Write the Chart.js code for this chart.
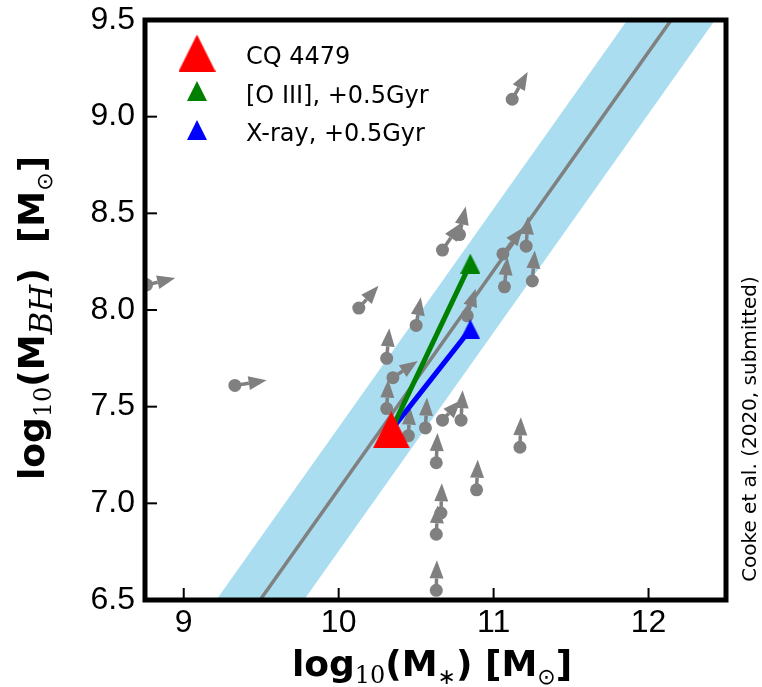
<!DOCTYPE html>
<html>
<head>
<meta charset="utf-8">
<script src="https://cdn.jsdelivr.net/npm/chart.js@4.4.0/dist/chart.umd.min.js"></script>
<style>
  html, body { margin: 0; padding: 0; background: #fff; }
</style>
</head>
<body>
<canvas id="chart" width="762" height="687"></canvas>
<script>
// axis ranges and tick labels
const xMin = 8.75, xMax = 12.5;
const yMin = 6.5, yMax = 9.5;
const xTicks = [9, 10, 11, 12];
const yTicks = [6.5, 7.0, 7.5, 8.0, 8.5, 9.0, 9.5];

// comparison sample (lower limits): log M*, log MBH, arrow offsets in dex
const galMstar = [8.76, 9.33, 10.13, 11.12, 10.67, 10.78, 10.50, 10.31, 10.35, 10.31, 10.45, 10.56, 10.67,
                  10.79, 11.17, 10.63, 10.89, 10.66, 10.63, 10.63, 11.06, 11.21, 11.07, 11.25, 10.83];
const galMbh   = [8.13, 7.61, 8.01, 9.09, 8.31, 8.39, 7.92, 7.75, 7.65, 7.49, 7.35, 7.39, 7.43,
                  7.43, 7.29, 7.21, 7.07, 6.95, 6.84, 6.55, 8.29, 8.33, 8.12, 8.15, 7.97];
const galDx    = [0.185, 0.205, 0.127, 0.10, 0.12, 0.04, 0.03, 0.017, 0.16, 0.01, 0.01, 0.01, 0.119,
                  0.01, 0.006, 0.008, 0.008, 0.006, 0.01, 0.004, 0.129, 0.013, 0.019, 0.016, 0.054];
const galDy    = [0.035, 0.026, 0.115, 0.141, 0.14, 0.145, 0.146, 0.155, 0.086, 0.15, 0.15, 0.157, 0.103,
                  0.155, 0.155, 0.154, 0.155, 0.154, 0.15, 0.155, 0.136, 0.155, 0.154, 0.158, 0.14];

// CQ 4479 now and after +0.5 Gyr
const cqMstar = [10.34], cqMbh = [7.38];
const oiiiMstar = [10.85], oiiiMbh = [8.24];
const xrayMstar = [10.85], xrayMbh = [7.90];

// local relation and its scatter band
const relX = [8.75, 12.5];
const relY = [5.66, 9.90];
const bandUpper = [5.98, 10.22];
const bandLower = [5.34, 9.58];

const grey = '#808080';
const bandColor = 'rgba(135, 206, 235, 0.7)';

function triangle(color, s) {
  const c = document.createElement('canvas');
  c.width = s; c.height = s;
  const g = c.getContext('2d');
  g.fillStyle = color;
  g.beginPath();
  g.moveTo(s / 2, 0); g.lineTo(s, s); g.lineTo(0, s);
  g.closePath(); g.fill();
  return c;
}
const triRed = triangle('#ff0000', 37);
const triGreen = triangle('#008000', 20);
const triBlue = triangle('#0000ff', 20);

const pts = (xs, ys) => xs.map((v, i) => ({ x: v, y: ys[i] }));

// draws text made of several pieces (sub/superscripts), centered at x
function richText(ctx, parts, x, y, rotate) {
  ctx.save();
  ctx.translate(x, y);
  if (rotate) ctx.rotate(-Math.PI / 2);
  let w = 0;
  parts.forEach(p => { ctx.font = p[1]; w += ctx.measureText(p[0]).width; });
  let cx = -w / 2;
  ctx.fillStyle = '#000';
  ctx.textAlign = 'left';
  ctx.textBaseline = 'alphabetic';
  parts.forEach(p => {
    ctx.font = p[1];
    ctx.fillText(p[0], cx, p[2]);
    cx += ctx.measureText(p[0]).width;
  });
  ctx.restore();
}

const arrowPlugin = {
  id: 'limitArrows',
  afterDatasetDraw(chart, args) {
    if (chart.data.datasets[args.index].label !== 'sample') return;
    const { ctx, chartArea: a, scales: { x, y } } = chart;
    ctx.save();
    ctx.beginPath();
    ctx.rect(a.left, a.top, a.right - a.left, a.bottom - a.top);
    ctx.clip();
    ctx.fillStyle = grey;
    ctx.strokeStyle = grey;
    ctx.lineWidth = 3.5;
    galMstar.forEach((m, i) => {
      const x0 = x.getPixelForValue(m), y0 = y.getPixelForValue(galMbh[i]);
      const x1 = x.getPixelForValue(m + galDx[i]), y1 = y.getPixelForValue(galMbh[i] + galDy[i]);
      const ang = Math.atan2(y1 - y0, x1 - x0);
      const head = 18, half = 7;
      const bx = x1 - head * Math.cos(ang), by = y1 - head * Math.sin(ang);
      ctx.beginPath();
      ctx.moveTo(x0, y0); ctx.lineTo(bx, by);
      ctx.stroke();
      ctx.beginPath();
      ctx.moveTo(x1, y1);
      ctx.lineTo(bx - half * Math.sin(ang), by + half * Math.cos(ang));
      ctx.lineTo(bx + half * Math.sin(ang), by - half * Math.cos(ang));
      ctx.closePath();
      ctx.fill();
    });
    ctx.restore();
  }
};

const framePlugin = {
  id: 'frame',
  afterDraw(chart) {
    const { ctx, chartArea: a, scales: { x, y } } = chart;
    ctx.save();
    ctx.strokeStyle = '#000';
    ctx.lineWidth = 2;
    xTicks.forEach(v => {
      const px = x.getPixelForValue(v);
      ctx.beginPath(); ctx.moveTo(px, a.bottom); ctx.lineTo(px, a.bottom - 12); ctx.stroke();
    });
    yTicks.forEach(v => {
      const py = y.getPixelForValue(v);
      ctx.beginPath(); ctx.moveTo(a.left, py); ctx.lineTo(a.left + 12, py); ctx.stroke();
    });
    ctx.lineWidth = 5;
    ctx.strokeRect(a.left, a.top, a.right - a.left, a.bottom - a.top);

    // legend
    ctx.drawImage(triRed, 197 - 18.5, 53 - 18.5);
    ctx.drawImage(triGreen, 197 - 10, 91 - 10);
    ctx.drawImage(triBlue, 197 - 10, 130 - 10);
    ctx.fillStyle = '#000';
    ctx.font = '24px "DejaVu Sans"';
    ctx.textAlign = 'left';
    ctx.textBaseline = 'alphabetic';
    ctx.fillText('CQ 4479', 246, 64);
    ctx.fillText('[O III], +0.5Gyr', 246, 103);
    ctx.fillText('X-ray, +0.5Gyr', 246, 141);

    // axis titles
    const B = 'bold 36px "DejaVu Sans"';
    const SUB = '24px "DejaVu Serif"';
    const SYM = '22px "DejaVu Sans"';
    richText(ctx, [['log', B, 0], ['10', SUB, 7], ['(M', B, 0], ['\u2217', SYM, 8],
                   [') [M', B, 0], ['\u2299', SYM, 8], [']', B, 0]], 432, 676, false);
    richText(ctx, [['log', B, 0], ['10', SUB, 7], ['(M', B, 0], ['BH', 'italic 31px "DejaVu Serif"', 8],
                   [')  [M', B, 0], ['\u2299', SYM, 8], [']', B, 0]], 44, 318, true);

    // note on the right
    ctx.save();
    ctx.translate(756, 429);
    ctx.rotate(-Math.PI / 2);
    ctx.font = '20px "DejaVu Sans"';
    ctx.textAlign = 'center';
    ctx.fillText('Cooke et al. (2020, submitted)', 0, 0);
    ctx.restore();
    ctx.restore();
  }
};

new Chart(document.getElementById('chart'), {
  type: 'scatter',
  data: {
    datasets: [
      { label: 'CQ 4479', data: pts(cqMstar, cqMbh), pointStyle: triRed, pointRadius: 10, order: 0 },
      { label: 'oiii', data: pts(oiiiMstar, oiiiMbh), pointStyle: triGreen, pointRadius: 10, order: 1 },
      { label: 'xray', data: pts(xrayMstar, xrayMbh), pointStyle: triBlue, pointRadius: 10, order: 1 },
      { type: 'line', label: 'oiii track', data: pts(cqMstar.concat(oiiiMstar), cqMbh.concat(oiiiMbh)),
        borderColor: '#008000', borderWidth: 5, pointRadius: 0, fill: false, order: 2 },
      { type: 'line', label: 'xray track', data: pts(cqMstar.concat(xrayMstar), cqMbh.concat(xrayMbh)),
        borderColor: '#0000ff', borderWidth: 5, pointRadius: 0, fill: false, order: 2 },
      { label: 'sample', data: pts(galMstar, galMbh), backgroundColor: grey, pointRadius: 6.5,
        pointBorderWidth: 0, order: 3 },
      { type: 'line', label: 'relation', data: pts(relX, relY), borderColor: grey, borderWidth: 3.5,
        pointRadius: 0, fill: false, order: 4 },
      { type: 'line', label: 'band upper', data: pts(relX, bandUpper), borderWidth: 0, pointRadius: 0,
        fill: '+1', backgroundColor: bandColor, order: 5 },
      { type: 'line', label: 'band lower', data: pts(relX, bandLower), borderWidth: 0, pointRadius: 0,
        fill: false, order: 6 }
    ]
  },
  options: {
    responsive: false,
    animation: false,
    layout: { padding: { top: 20, right: 36, left: 0, bottom: 0 } },
    plugins: { legend: { display: false }, tooltip: { enabled: false } },
    scales: {
      x: {
        type: 'linear', min: xMin, max: xMax,
        afterBuildTicks: s => { s.ticks = xTicks.map(v => ({ value: v })); },
        afterFit: s => { s.height = 87; s.paddingLeft = 0; s.paddingRight = 0; },
        grid: { display: false, drawTicks: false },
        border: { display: false },
        ticks: { font: { family: 'Liberation Sans', size: 32 }, color: '#000', padding: 4,
                 maxRotation: 0, autoSkip: false, callback: v => String(v) }
      },
      y: {
        type: 'linear', min: yMin, max: yMax,
        afterBuildTicks: s => { s.ticks = yTicks.map(v => ({ value: v })); },
        afterFit: s => { s.width = 145; s.paddingTop = 0; s.paddingBottom = 0; },
        grid: { display: false, drawTicks: false },
        border: { display: false },
        ticks: { font: { family: 'Liberation Sans', size: 32 }, color: '#000', padding: 10,
                 autoSkip: false, callback: v => v.toFixed(1) }
      }
    }
  },
  plugins: [arrowPlugin, framePlugin]
});
</script>
</body>
</html>
